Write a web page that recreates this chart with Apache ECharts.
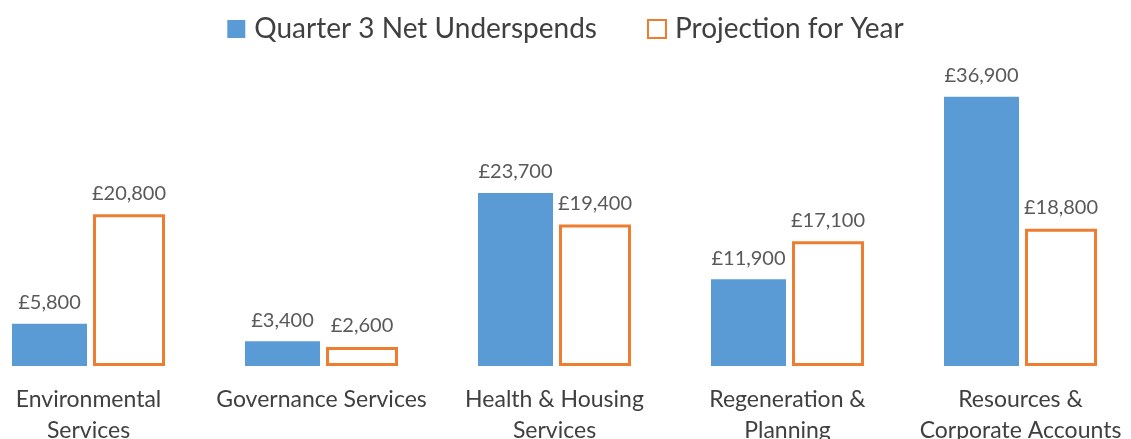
<!DOCTYPE html>
<html>
<head>
<meta charset="utf-8">
<script src="https://cdn.jsdelivr.net/npm/echarts@6/dist/echarts.min.js"></script>
<style>
  html, body { margin: 0; padding: 0; background: #fff; }
  #chart { width: 1131px; height: 439px; }
</style>
</head>
<body>
<div id="chart"></div>
<script>
const categories = [
  'Environmental\nServices',
  'Governance Services',
  'Health & Housing\nServices',
  'Regeneration &\nPlanning',
  'Resources &\nCorporate Accounts'
]
const quarter3 = [5800, 3400, 23700, 11900, 36900]
const projection = [20800, 2600, 19400, 17100, 18800]

const fmt = (v) => '£' + v.toLocaleString('en-GB')
const font = 'Lato, "Open Sans", sans-serif'

const myChart = echarts.init(document.getElementById('chart'))
const option = {
  animation: false,
  textStyle: { fontFamily: font },
  legend: {
    top: 10,
    left: 'center',
    itemWidth: 18,
    itemHeight: 18,
    itemGap: 50,
    textStyle: { fontSize: 28, color: '#404040', fontFamily: font, padding: [0, 0, 0, 4] },
    data: [
      { name: 'Quarter 3 Net Underspends', icon: 'rect' },
      { name: 'Projection for Year', icon: 'rect' }
    ]
  },
  grid: { left: -28, right: -6, top: 74, bottom: 73, containLabel: false, outerBoundsMode: 'none' },
  xAxis: {
    type: 'category',
    data: categories,
    axisLine: { show: false },
    axisTick: { show: false },
    axisLabel: { fontSize: 23, color: '#404040', margin: 18, lineHeight: 31, interval: 0, fontFamily: font }
  },
  yAxis: {
    type: 'value',
    min: 0,
    max: 40000,
    show: false,
    splitLine: { show: false }
  },
  series: [
    {
      name: 'Quarter 3 Net Underspends',
      type: 'bar',
      data: quarter3,
      barWidth: 75,
      barGap: '8%',
      itemStyle: { color: '#5B9BD5' },
      label: {
        show: true, position: 'top', distance: 11,
        fontSize: 20, color: '#595959', fontFamily: font,
        formatter: (p) => fmt(p.value)
      }
    },
    {
      name: 'Projection for Year',
      type: 'bar',
      data: projection,
      barWidth: 72,
      itemStyle: { color: '#ffffff', borderColor: '#ED7D31', borderWidth: 3 },
      label: {
        show: true, position: 'top', distance: 11,
        fontSize: 20, color: '#595959', fontFamily: font,
        formatter: (p) => fmt(p.value)
      }
    }
  ]
}
option && myChart.setOption(option)
</script>
</body>
</html>
